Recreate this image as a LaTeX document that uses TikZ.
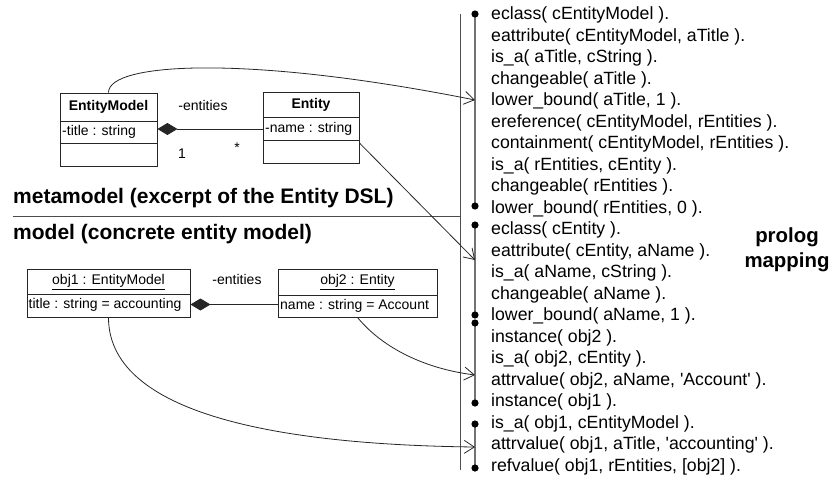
\documentclass[tikz,border=0pt]{standalone}
\usepackage{fontspec}
\setmainfont{Liberation Sans}
\usetikzlibrary{arrows.meta}

\tikzset{
  umlbox/.style={draw=black!85, line width=0.9pt, inner sep=0pt},
  divider/.style={draw=black!85, line width=0.9pt},
  small/.style={inner sep=0pt, font=\fontsize{14}{16}\selectfont},
  smallbold/.style={inner sep=0pt, font=\fontsize{14}{16}\selectfont\bfseries},
  heading/.style={inner sep=0pt, anchor=west, font=\fontsize{21}{25}\selectfont\bfseries},
  fact/.style={inner sep=0pt, anchor=west, text height=12.5pt, text depth=3.5pt,
    font=\fontsize{17.7}{21.5}\selectfont},
  conn/.style={draw=black!85, line width=0.8pt, -{Straight Barb[length=10pt,width=13pt]}},
  compo/.style={draw=black!85, line width=0.9pt, {Diamond[length=20pt,width=12pt]}-},
  rule/.style={draw=black!70, line width=1pt},
  bracket/.style={draw=black!55, line width=1.6pt},
  knob/.style={fill=black, draw=none},
}

\begin{document}
\begin{tikzpicture}[x=1pt, y=-1pt]
\useasboundingbox (0,0) rectangle (831,477);

% ---------- metamodel: classes ----------
\node[umlbox, minimum width=97, minimum height=73] (em) at (108.5,129.5) {};
\draw[divider] (em.west |- 0,121) -- (em.east |- 0,121);
\draw[divider] (em.west |- 0,143) -- (em.east |- 0,143);
\node[smallbold] (emname) at (108.5,107) {EntityModel};
\node[small, anchor=west] (emattr) at (62,131.5) {-title : string};

\node[umlbox, minimum width=96, minimum height=71] (en) at (311,127.5) {};
\draw[divider] (en.west |- 0,117) -- (en.east |- 0,117);
\draw[divider] (en.west |- 0,140) -- (en.east |- 0,140);
\node[smallbold] (enname) at (311,104.5) {Entity};
\node[small, anchor=west] (enattr) at (265,128.5) {-name : string};

\draw[compo] (em.east |- 0,129) -- (en.west |- 0,129);
\node[small] (rolea) at (203,105) {-entities};
\node[small] (multa) at (182,154) {1};
\node[small] (multb) at (237,148) {*};

% ---------- section headings ----------
\node[heading] (mm) at (13,198) {metamodel (excerpt of the Entity DSL)};
\draw[rule] (13,216) -- (460,216);
\node[heading] (md) at (13,234) {model (concrete entity model)};

% ---------- model: objects ----------
\node[umlbox, minimum width=163, minimum height=48] (o1) at (108.5,293) {};
\draw[divider] (o1.west |- 0,294) -- (o1.east |- 0,294);
\node[small] (o1name) at (108.5,282) {\underline{obj1 : EntityModel}};
\node[small, anchor=west] (o1attr) at (28.5,305) {title : string = accounting};

\node[umlbox, minimum width=159, minimum height=48] (o2) at (357.5,293) {};
\draw[divider] (o2.west |- 0,295) -- (o2.east |- 0,295);
\node[small] (o2name) at (357.5,282) {\underline{obj2 : Entity}};
\node[small, anchor=west] (o2attr) at (280,305.5) {name : string = Account};

\draw[compo] (o1.east |- 0,304.5) -- (o2.west |- 0,304.5);
\node[small] (roleb) at (237,279) {-entities};

% ---------- prolog facts ----------
\draw[rule] (460,14) -- (460,470);

\foreach \txt [count=\i from 0] in {
  {eclass( cEntityModel ).},
  {eattribute( cEntityModel, aTitle ).},
  {is\_a( aTitle, cString ).},
  {changeable( aTitle ).},
  {lower\_bound( aTitle, 1 ).},
  {ereference( cEntityModel, rEntities ).},
  {containment( cEntityModel, rEntities ).},
  {is\_a( rEntities, cEntity ).},
  {changeable( rEntities ).},
  {lower\_bound( rEntities, 0 ).},
  {eclass( cEntity ).},
  {eattribute( cEntity, aName ).},
  {is\_a( aName, cString ).},
  {changeable( aName ).},
  {lower\_bound( aName, 1 ).},
  {instance( obj2 ).},
  {is\_a( obj2, cEntity ).},
  {attrvalue( obj2, aName, \textquotesingle Account\textquotesingle\ ).},
  {instance( obj1 ).},
  {is\_a( obj1, cEntityModel ).},
  {attrvalue( obj1, aTitle, \textquotesingle accounting\textquotesingle\ ).},
  {refvalue( obj1, rEntities, [obj2] ).}}
  \node[fact] (f\i) at (491,15+21.5*\i) {\txt};

% groups of facts, each bracketed by a bar with end knobs
\foreach \ya/\yb in {14/206, 225/315, 323/403, 424/468} {
  \draw[bracket] (475,\ya) -- (475,\yb);
  \fill[knob] (475,\ya) circle (3.6pt);
  \fill[knob] (475,\yb) circle (3.6pt);
}

\node[inner sep=0pt, align=center, font=\fontsize{20.4}{25}\selectfont\bfseries]
  (pm) at (787,249.5) {prolog\\mapping};

% ---------- mapping connectors ----------
\coordinate (t4) at (475,100);
\coordinate (t11) at (475,260);
\coordinate (t17) at (475,375);
\coordinate (t20) at (475,447);

\draw[conn] (em.north) .. controls (108.5,62) and (250,55) .. (t4);
\draw[conn] (en.east |- 0,143) -- (t11);
\draw[conn] (o2.south) .. controls (380,345) and (420,368) .. (t17);
\draw[conn] (o1.south) .. controls (108.5,420) and (300,445) .. (t20);
\end{tikzpicture}
\end{document}
